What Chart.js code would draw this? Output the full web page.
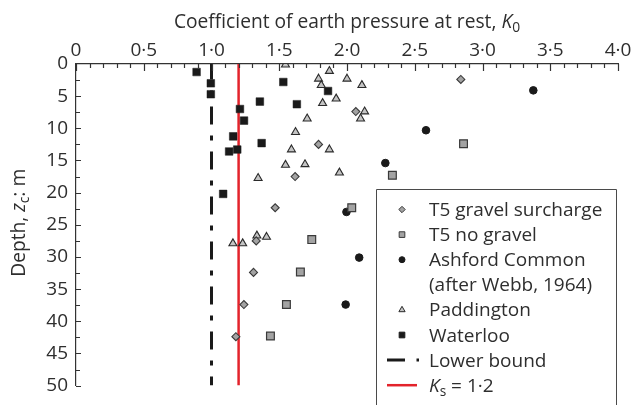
<!DOCTYPE html>
<html>
<head>
<meta charset="utf-8">
<script src="https://cdn.jsdelivr.net/npm/chart.js@4.4.0/dist/chart.umd.min.js"></script>
<style>
  body { margin: 0; background: #fff; }
  #wrap { width: 635px; height: 405px; }
</style>
</head>
<body>
<div id="wrap"><canvas id="k0Chart" width="635" height="405"></canvas></div>
<script>
// values: K0 (x) against depth zc in m (y)
const gravelK = [2.84, 2.065, 1.79, 1.617, 1.47, 1.33, 1.31, 1.239, 1.18];
const gravelZ = [2.4, 7.4, 12.5, 17.5, 22.35, 27.5, 32.4, 37.4, 42.4];

const noGravelK = [2.86, 2.335, 2.035, 1.74, 1.656, 1.553, 1.435];
const noGravelZ = [12.4, 17.3, 22.35, 27.3, 32.35, 37.4, 42.3];

const ashfordK = [3.375, 2.583, 2.283, 1.996, 2.09, 1.99];
const ashfordZ = [4.1, 10.3, 15.4, 23.0, 30.1, 37.4];

const paddingtonK = [1.546, 1.87, 1.79, 2.0, 1.81, 2.11, 1.92, 1.82, 2.13, 2.10, 1.706,
                     1.62, 1.59, 1.87, 1.546, 1.69, 1.944, 1.344, 1.335, 1.406, 1.158, 1.23];
const paddingtonZ = [0.1, 1.1, 2.3, 2.3, 3.3, 3.3, 5.4, 6.1, 7.4, 8.5, 8.5,
                     10.6, 13.3, 13.3, 15.7, 15.6, 16.9, 17.75, 26.7, 26.9, 27.9, 27.9];

const waterlooK = [0.89, 0.995, 0.995, 1.53, 1.86, 1.357, 1.63, 1.21, 1.24, 1.16, 1.37, 1.19, 1.13, 1.086];
const waterlooZ = [1.25, 3.0, 4.7, 2.8, 4.2, 5.84, 6.25, 7.0, 8.8, 11.25, 12.3, 13.3, 13.6, 20.2];

const lowerBoundK = [1.0, 1.0];
const ksK = [1.2, 1.2];
const lineZ = [0, 50];

const xTicks = [0, 0.5, 1.0, 1.5, 2.0, 2.5, 3.0, 3.5, 4.0];
const yTicks = [0, 5, 10, 15, 20, 25, 30, 35, 40, 45, 50];

const FONT = "'Open Sans', 'Noto Sans', sans-serif";
const textColor = "#2e2e2e";
const axisColor = "#333333";

const pts = (xs, ys) => xs.map((v, i) => ({ x: v, y: ys[i] }));
const fmtK = (v) => (v === 0 ? "0" : v.toFixed(1).replace(".", "\u00B7"));

// draws a label made of pieces, some italic and some lowered as subscripts
const drawRich = (ctx, parts, x, y, size, align) => {
    const fontOf = (p) => (p.italic ? "italic " : "") + (p.sub ? size * 0.72 : size) + "px " + FONT;
    let total = 0;
    parts.forEach((p) => { ctx.font = fontOf(p); total += ctx.measureText(p.t).width; });
    let cx = align === "center" ? x - total / 2 : x;
    ctx.textAlign = "left";
    ctx.textBaseline = "alphabetic";
    parts.forEach((p) => {
        ctx.font = fontOf(p);
        ctx.fillText(p.t, cx, p.sub ? y + size * 0.22 : y);
        cx += ctx.measureText(p.t).width;
    });
};

const decor = {
    id: "decor",
    afterDraw(chart) {
        const { ctx, chartArea, scales } = chart;
        const x = scales.x, y = scales.y;
        ctx.save();

        // tick marks point into the plot
        ctx.strokeStyle = axisColor;
        ctx.lineWidth = 1.2;
        ctx.beginPath();
        for (let i = 0; i <= 40; i++) {
            const px = Math.round(x.getPixelForValue(i / 10)) + 0.5;
            ctx.moveTo(px, chartArea.top);
            ctx.lineTo(px, chartArea.top + (i % 5 === 0 ? 7 : 4));
        }
        for (let i = 1; i <= 20; i++) {
            const py = Math.round(y.getPixelForValue(i * 2.5)) + 0.5;
            ctx.moveTo(chartArea.left, py);
            ctx.lineTo(chartArea.left + (i % 2 === 0 ? 5 : 4), py);
        }
        ctx.stroke();

        // axis titles
        ctx.fillStyle = textColor;
        drawRich(ctx, [
            { t: "Coefficient of earth pressure at rest, " },
            { t: "K", italic: true },
            { t: "0", sub: true },
        ], (chartArea.left + chartArea.right) / 2, 28, 19.2, "center");

        ctx.save();
        ctx.translate(25, (chartArea.top + chartArea.bottom) / 2 - 2);
        ctx.rotate(-Math.PI / 2);
        drawRich(ctx, [
            { t: "Depth, " },
            { t: "z", italic: true },
            { t: "c", sub: true },
            { t: ": m" },
        ], 0, 0, 19.2, "center");
        ctx.restore();

        // legend box, open at the bottom
        const bx0 = 376.5, bx1 = 616.5, by0 = 189.5;
        ctx.fillStyle = "#ffffff";
        ctx.fillRect(bx0, by0, bx1 - bx0, 405 - by0);
        ctx.strokeStyle = "#4a4a4a";
        ctx.lineWidth = 1;
        ctx.beginPath();
        ctx.moveTo(bx0, 405);
        ctx.lineTo(bx0, by0);
        ctx.lineTo(bx1, by0);
        ctx.lineTo(bx1, 405);
        ctx.stroke();

        let base = 216;
        const markX = 402, textX = 429, step = 25.1;
        chart.data.datasets.forEach((ds) => {
            const cy = base - 6.5;
            if (ds.showLine) {
                ctx.strokeStyle = ds.borderColor;
                ctx.lineWidth = ds.borderWidth;
                ctx.beginPath();
                if (ds.borderDash) {
                    ctx.moveTo(387, cy); ctx.lineTo(405, cy);
                    ctx.moveTo(416.5, cy); ctx.lineTo(419, cy);
                } else {
                    ctx.moveTo(387, cy); ctx.lineTo(417, cy);
                }
                ctx.stroke();
            } else {
                ctx.fillStyle = ds.pointBackgroundColor;
                ctx.strokeStyle = ds.pointBorderColor;
                ctx.lineWidth = 1;
                Chart.helpers.drawPoint(ctx, { pointStyle: ds.pointStyle, radius: ds.legendRadius, borderWidth: 1, rotation: 0 }, markX, cy);
            }
            ctx.fillStyle = textColor;
            const lines = ds.richLabel ? [ds.richLabel] : [].concat(ds.label).map((t) => [{ t }]);
            lines.forEach((parts) => {
                drawRich(ctx, parts, textX, base, 19, "left");
                base += step;
            });
        });
        ctx.restore();
    },
};

new Chart(document.getElementById("k0Chart"), {
    type: "scatter",
    data: {
        datasets: [
            {
                label: "T5 gravel surcharge",
                data: pts(gravelK, gravelZ),
                pointStyle: "rectRot",
                pointRadius: 4,
                legendRadius: 3.2,
                pointBackgroundColor: "#a3a3a3",
                pointBorderColor: "#3a3a3a",
                pointBorderWidth: 1.1,
            },
            {
                label: "T5 no gravel",
                data: pts(noGravelK, noGravelZ),
                pointStyle: "rect",
                pointRadius: 5.5,
                legendRadius: 4,
                pointBackgroundColor: "#a3a3a3",
                pointBorderColor: "#3a3a3a",
                pointBorderWidth: 1.2,
            },
            {
                label: ["Ashford Common", "(after Webb, 1964)"],
                data: pts(ashfordK, ashfordZ),
                pointStyle: "circle",
                pointRadius: 3.8,
                legendRadius: 3,
                pointBackgroundColor: "#1a1a1a",
                pointBorderColor: "#1a1a1a",
                pointBorderWidth: 1,
            },
            {
                label: "Paddington",
                data: pts(paddingtonK, paddingtonZ),
                pointStyle: "triangle",
                pointRadius: 4.6,
                legendRadius: 3.6,
                pointBackgroundColor: "#c4c4c4",
                pointBorderColor: "#2a2a2a",
                pointBorderWidth: 1.1,
            },
            {
                label: "Waterloo",
                data: pts(waterlooK, waterlooZ),
                pointStyle: "rect",
                pointRadius: 5.4,
                legendRadius: 4,
                pointBackgroundColor: "#1a1a1a",
                pointBorderColor: "#1a1a1a",
                pointBorderWidth: 0.5,
            },
            {
                label: "Lower bound",
                data: pts(lowerBoundK, lineZ),
                showLine: true,
                borderColor: "#1a1a1a",
                borderWidth: 3,
                borderDash: [18, 11, 5, 11],
                borderDashOffset: 2.6,
                pointRadius: 0,
            },
            {
                label: "Ks = 1\u00B72",
                richLabel: [{ t: "K", italic: true }, { t: "s", sub: true }, { t: " = 1\u00B72" }],
                data: pts(ksK, lineZ),
                showLine: true,
                borderColor: "#e3232b",
                borderWidth: 2.5,
                pointRadius: 0,
            },
        ],
    },
    options: {
        responsive: false,
        animation: false,
        devicePixelRatio: 1,
        layout: {
            padding: { top: 0, left: 0, right: 17, bottom: 18 },
        },
        scales: {
            x: {
                type: "linear",
                position: "top",
                min: 0,
                max: 4,
                afterBuildTicks: (scale) => { scale.ticks = xTicks.map((v) => ({ value: v })); },
                afterFit: (scale) => { scale.height = 64; },
                grid: { display: false, drawTicks: false },
                border: { display: true, color: axisColor, width: 1.2 },
                ticks: {
                    callback: (v) => fmtK(v),
                    color: textColor,
                    padding: 2,
                    maxRotation: 0,
                    font: { family: FONT, size: 19 },
                },
            },
            y: {
                type: "linear",
                position: "left",
                reverse: true,
                min: 0,
                max: 50,
                afterBuildTicks: (scale) => { scale.ticks = yTicks.map((v) => ({ value: v })); },
                afterFit: (scale) => { scale.width = 76; },
                grid: { display: false, drawTicks: false },
                border: { display: true, color: axisColor, width: 1.2 },
                ticks: {
                    color: textColor,
                    padding: 8,
                    font: { family: FONT, size: 19 },
                },
            },
        },
        plugins: {
            legend: { display: false },
            tooltip: { enabled: false },
            title: { display: false },
        },
    },
    plugins: [decor],
});
</script>
</body>
</html>
